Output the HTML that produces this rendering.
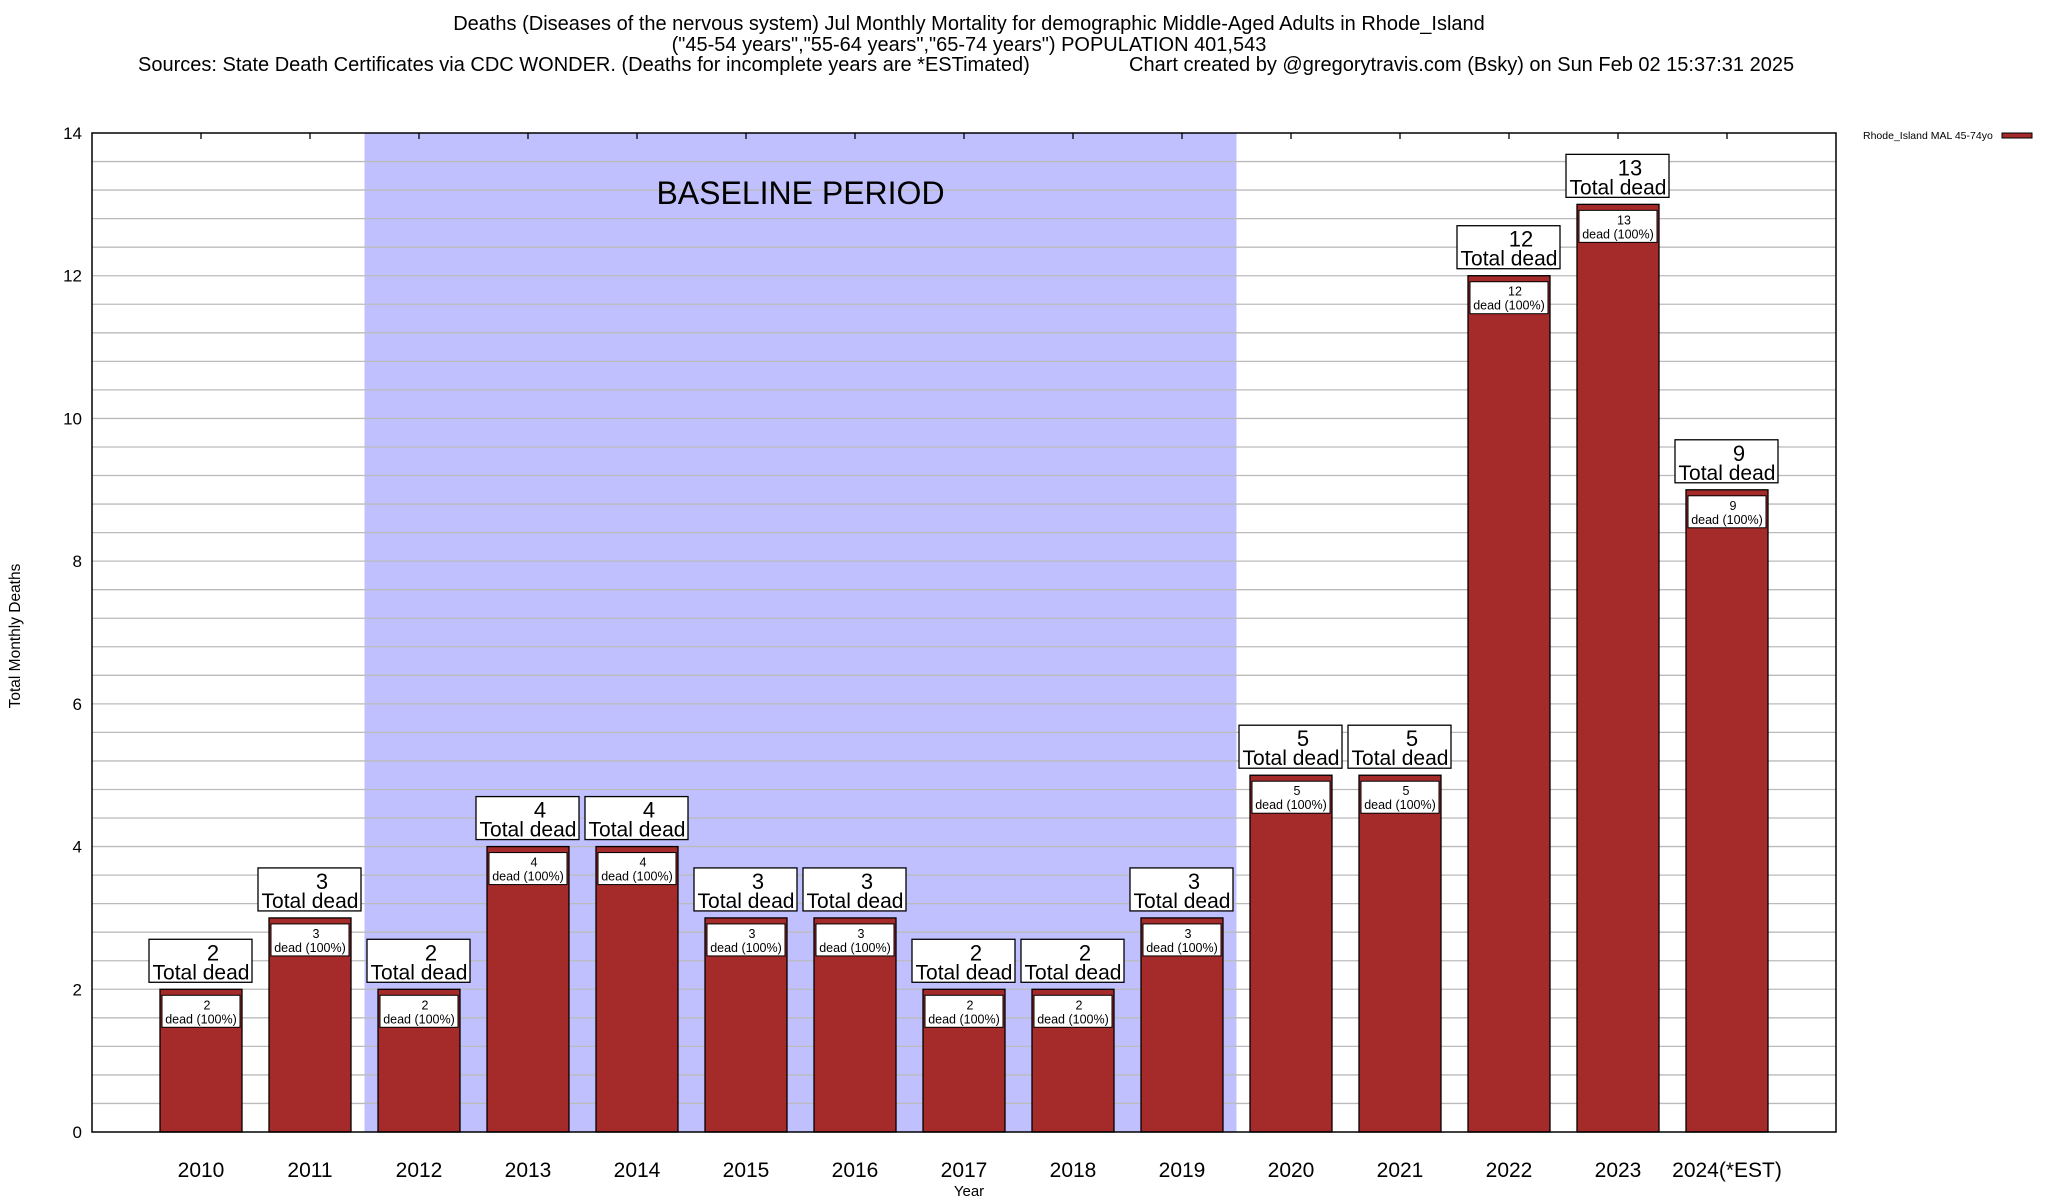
<!DOCTYPE html>
<html><head><meta charset="utf-8"><style>
body{margin:0;background:#fff;}
svg{display:block;font-family:"Liberation Sans",Arial,sans-serif;}
</style></head><body>
<svg id="chart" width="2048" height="1200" viewBox="0 0 2048 1200">
<g font-size="20" fill="#000">
<text x="969" y="30" text-anchor="middle">Deaths (Diseases of the nervous system) Jul Monthly Mortality for demographic Middle-Aged Adults in Rhode_Island</text>
<text x="969" y="51" text-anchor="middle">("45-54 years","55-64 years","65-74 years") POPULATION 401,543</text>
<text x="138" y="71">Sources: State Death Certificates via CDC WONDER. (Deaths for incomplete years are *ESTimated)</text>
<text x="1129" y="71">Chart created by @gregorytravis.com (Bsky) on Sun Feb 02 15:37:31 2025</text>
</g>
<g id="plot"></g>
<g>
<text x="1863" y="139" font-size="10.5">Rhode_Island MAL 45-74yo</text>
<rect x="2002" y="133" width="30" height="5" fill="#a52a2a" stroke="#000" stroke-width="1"/>
</g>
<text x="20" y="636" font-size="15.5" text-anchor="middle" transform="rotate(-90 20 636)">Total Monthly Deaths</text>
<text x="969" y="1196" font-size="15" text-anchor="middle">Year</text>
</svg>
<script>
const categories = ["2010","2011","2012","2013","2014","2015","2016","2017","2018","2019","2020","2021","2022","2023","2024(*EST)"];
const deaths = [2,3,2,4,4,3,3,2,2,3,5,5,12,13,9];
const yTicks = [0,2,4,6,8,10,12,14];
const baselineStart = 1.5, baselineEnd = 9.5;

const L=92,R=1836,T=133,B=1132,yMax=14;
const X = i => L + (i+1)*(R-L)/16;
const Y = v => B - v*(B-T)/yMax;
const NS="http://www.w3.org/2000/svg";
const plot=document.getElementById('plot');
function mk(tag,attrs,parent){const e=document.createElementNS(NS,tag);for(const k in attrs)e.setAttribute(k,attrs[k]);(parent||plot).appendChild(e);return e;}

const band=mk('rect',{x:X(baselineStart),y:T,width:X(baselineEnd)-X(baselineStart),height:B-T,fill:'#c0c0ff'});



for(let k=1;k<35;k++){
  const v=k*0.4;
  const g=mk('line',{x1:L,x2:R,y1:Y(v),y2:Y(v),stroke:'#bbb','stroke-width':1.3});
  
  
}
const bl=mk('text',{x:(X(baselineStart)+X(baselineEnd))/2,y:204,'font-size':32,'text-anchor':'middle'});
bl.textContent='BASELINE PERIOD';


yTicks.forEach(t=>{
  const tx=mk('text',{x:82,y:Y(t)+6,'font-size':17,'text-anchor':'end'});
  tx.textContent=t;
  
  
});

categories.forEach((c,i)=>{
  const v=deaths[i], cx=X(i), w=82, x0=cx-w/2, top=Y(v);
  const bar=mk('rect',{x:x0,y:top,width:w,height:B-top,fill:'#a52a2a',stroke:'#000','stroke-width':1.3});
  
  
  const ib=mk('rect',{x:x0+2,y:top+6,width:w-4,height:32,fill:'#fff',stroke:'#000','stroke-width':1});
  
  
  const t1=mk('text',{x:cx+6,y:top+20,'font-size':12.5,'text-anchor':'middle'});t1.textContent=v;
  
  
  const t2=mk('text',{x:cx,y:top+34,'font-size':12.5,'text-anchor':'middle'});t2.textContent='dead (100%)';
  
  
  const ob=mk('rect',{x:cx-52,y:top-50,width:103,height:43,fill:'#fff',stroke:'#000','stroke-width':1.3});
  
  
  const o1=mk('text',{x:cx+12,y:top-29,'font-size':22,'text-anchor':'middle'});o1.textContent=v;
  
  
  const o2=mk('text',{x:cx,y:top-10,'font-size':21,'text-anchor':'middle'});o2.textContent='Total dead';
  
  
  const xl=mk('text',{x:cx,y:1177,'font-size':21,'text-anchor':'middle'});xl.textContent=c;
  
  
  const tk=mk('line',{x1:cx,x2:cx,y1:T,y2:T+6,stroke:'#000','stroke-width':1.3});
  
  
});
const frame=mk('rect',{x:L,y:T,width:R-L,height:B-T,fill:'none',stroke:'#000','stroke-width':1.5});


</script>
</body></html>
